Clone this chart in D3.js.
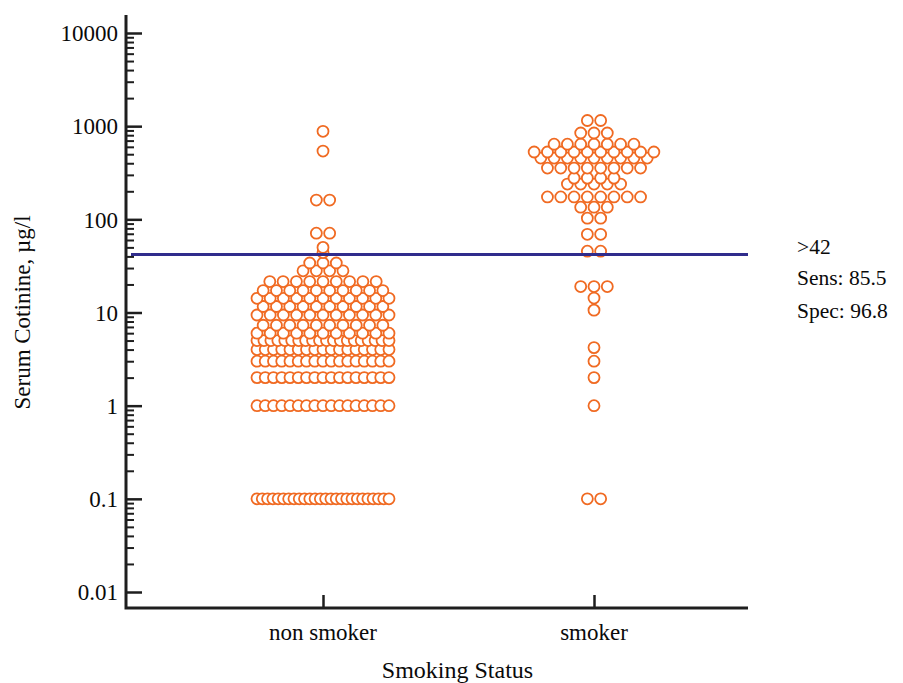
<!DOCTYPE html>
<html><head><meta charset="utf-8">
<script src="https://cdn.jsdelivr.net/npm/d3@7"></script>
<style>
body{margin:0;background:#fff}
text{font-family:"Liberation Serif","Times New Roman",serif;fill:#0a0a0a}
</style>
</head><body>
<svg id="chart" width="903" height="683"></svg>
<script>
// ---- data ----
const categories = ["non smoker", "smoker"];
const nonSmokerLevels = [0.1, 1, 2, 3, 4, 5, 6, 7.3, 9.4, 11.6, 14.2, 17.2, 21.5, 28, 34, 44, 50, 71, 161, 540, 880];
const nonSmokerCounts = [26, 17, 17, 17, 17, 20, 11, 10, 11, 10, 11, 10, 9, 4, 3, 1, 1, 2, 2, 1, 1];
const smokerLevels = [0.1, 1, 2, 3, 4.2, 10.6, 14.3, 19, 45.5, 69, 103, 135, 174, 239, 277, 355, 455, 528, 640, 845, 1150];
const smokerCounts = [2, 1, 1, 1, 1, 1, 1, 3, 2, 2, 2, 3, 8, 5, 4, 8, 9, 10, 7, 3, 2];
const yTickValues = [0.01, 0.1, 1, 10, 100, 1000, 10000];
const yTickLabels = ["0.01", "0.1", "1", "10", "100", "1000", "10000"];
const cutoffValue = 42;
const cutoffTexts = [">42", "Sens: 85.5", "Spec: 96.8"];
const xTitle = "Smoking Status";
const yTitle = "Serum Cotinine, µg/l";

// ---- layout ----
const svg = d3.select("#chart");
const axisX = 126, axisBottom = 608, axisTop = 15, axisRight = 748;
const y = d3.scaleLog().domain([0.01, 10000]).range([592, 33]);
const x = d3.scalePoint().domain(categories).range([323, 594]);
const orange = "#f06a22", axisColor = "#1e1e1e";

// minor ticks
const minorVals = [];
for (let e = -2; e < 4; e++) for (let m = 2; m <= 9; m++) minorVals.push(m * Math.pow(10, e));

const yAxisMajor = d3.axisRight(y).tickValues(yTickValues).tickSize(16).tickFormat("");
const yAxisMinor = d3.axisRight(y).tickValues(minorVals).tickSize(8).tickFormat("");
const gMin = svg.append("g").attr("transform", `translate(${axisX},0)`).call(yAxisMinor);
const gMaj = svg.append("g").attr("transform", `translate(${axisX},0)`).call(yAxisMajor);
[gMin, gMaj].forEach(g => {
  g.select(".domain").remove();
  g.selectAll("line").attr("stroke", axisColor).attr("stroke-width", 2);
});
gMaj.selectAll("line").attr("stroke-width", 2.5);

// y tick labels
svg.append("g").selectAll("text").data(yTickValues).join("text")
  .attr("x", axisX - 8).attr("y", d => y(d)).attr("dy", "0.36em")
  .attr("text-anchor", "end").style("font-size", "23px")
  .text((d, i) => yTickLabels[i]);

// x axis ticks
const xAxis = d3.axisTop(x).tickSize(13).tickFormat("");
const gx = svg.append("g").attr("transform", `translate(0,${axisBottom})`).call(xAxis);
gx.select(".domain").remove();
gx.selectAll("line").attr("stroke", axisColor).attr("stroke-width", 2.5);

svg.append("g").selectAll("text").data(categories).join("text")
  .attr("x", d => x(d)).attr("y", 640).attr("text-anchor", "middle")
  .style("font-size", "23px").text(d => d);

// axis lines
svg.append("path")
  .attr("d", `M${axisX},${axisTop}V${axisBottom}H${axisRight}`)
  .attr("fill", "none").attr("stroke", axisColor).attr("stroke-width", 3);

// titles
svg.append("text").attr("x", x.range()[0] + (x.range()[1] - x.range()[0]) / 2 - 1).attr("y", 678)
  .attr("text-anchor", "middle").style("font-size", "24px").text(xTitle);
svg.append("text").attr("transform", `translate(30,${(y(0.01) + y(10000)) / 2}) rotate(-90)`)
  .attr("text-anchor", "middle").style("font-size", "23px").text(yTitle);

// points
function layoutRows(levels, counts, cx) {
  const pts = [];
  levels.forEach((v, i) => {
    const n = counts[i];
    const step = n > 1 ? Math.min(13.3, 132 / (n - 1)) : 0;
    for (let k = 0; k < n; k++) pts.push({ v, x: cx + (k - (n - 1) / 2) * step });
  });
  return pts;
}
const points = [
  ...layoutRows(nonSmokerLevels, nonSmokerCounts, x("non smoker")),
  ...layoutRows(smokerLevels, smokerCounts, x("smoker"))
];
svg.append("g").selectAll("circle").data(points).join("circle")
  .attr("cx", d => d.x).attr("cy", d => y(d.v)).attr("r", 5.5)
  .attr("fill", "#fff").attr("stroke", orange).attr("stroke-width", 1.8);

// cutoff line
svg.append("line").attr("x1", axisX + 5).attr("x2", axisRight)
  .attr("y1", y(cutoffValue)).attr("y2", y(cutoffValue))
  .attr("stroke", "#302c8c").attr("stroke-width", 3);

svg.append("g").selectAll("text").data(cutoffTexts).join("text")
  .attr("x", 797).attr("y", (d, i) => [254, 285, 318][i])
  .style("font-size", "21.5px").text(d => d);
</script>
</body></html>
